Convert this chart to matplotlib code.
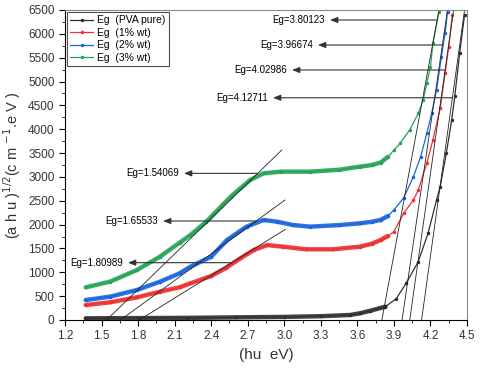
import numpy as np
import matplotlib.pyplot as plt
from matplotlib.ticker import MultipleLocator

plt.rcParams['font.family'] = ['Liberation Sans', 'DejaVu Sans']

# photon energy (eV) and (ahu)^1/2 values
e_pure = [1.37, 1.8, 2.2, 2.6, 3.0, 3.3, 3.54, 3.62, 3.70, 3.83, 3.92, 4.00,
          4.10, 4.18, 4.25, 4.28, 4.33, 4.375, 4.40, 4.44, 4.48]
y_pure = [35, 40, 45, 55, 65, 80, 105, 140, 190, 280, 450, 769,
          1223, 1817, 2516, 2796, 3494, 4200, 4700, 5600, 6400]

e_1 = [1.37, 1.57, 1.79, 1.98, 2.14, 2.23, 2.40, 2.52, 2.64, 2.75, 2.86, 2.99, 3.18,
       3.40, 3.62, 3.72, 3.79, 3.85, 3.90, 3.98, 4.06, 4.10, 4.17, 4.22, 4.28, 4.32, 4.35, 4.38]
y_1 = [314, 371, 475, 594, 685, 769, 922, 1090, 1293, 1468, 1572, 1537, 1482,
       1482, 1537, 1600, 1677, 1760, 1852, 2236, 2516, 2726, 3285, 3775, 4440, 5172, 5731, 6395]

e_2 = [1.37, 1.57, 1.79, 1.98, 2.14, 2.23, 2.40, 2.53, 2.69, 2.83, 2.94, 3.07,
       3.21, 3.45, 3.62, 3.72, 3.79, 3.85, 3.90, 3.98, 4.06, 4.12, 4.17, 4.21, 4.25, 4.29, 4.32, 4.34]
y_2 = [419, 489, 629, 804, 978, 1118, 1327, 1677, 1957, 2097, 2062, 1992,
       1957, 1990, 2027, 2060, 2097, 2180, 2306, 2560, 3005, 3424, 3914, 4333, 4823, 5521, 6010, 6464]

e_3 = [1.37, 1.57, 1.79, 1.98, 2.14, 2.23, 2.36, 2.56, 2.72, 2.83, 2.97, 3.21,
       3.45, 3.62, 3.72, 3.79, 3.85, 3.90, 3.95, 4.03, 4.10, 4.14, 4.17, 4.20, 4.22, 4.27]
y_3 = [685, 804, 1048, 1328, 1620, 1782, 2062, 2585, 2936, 3075, 3110, 3110,
       3150, 3215, 3250, 3300, 3420, 3560, 3705, 3985, 4333, 4613, 4963, 5311, 5800, 6464]

labels = ['Eg  (PVA pure)', 'Eg  (1% wt)', 'Eg  (2% wt)', 'Eg  (3% wt)']
colors = ['#303030', '#ee3030', '#1a66dd', '#28a35a']

# tangent lines: low-energy gaps (3%, 2%, 1%) and high-energy gaps (3%, 2%, 1%, pure)
eg_low = [1.54069, 1.65533, 1.80989]
low_end_e = [2.98, 3.006, 3.01]
low_end_y = [3565, 2516, 1902]
eg_high = [3.80123, 3.96674, 4.02986, 4.12711]
high_top_e = [4.27, 4.34, 4.39, 4.48]

# arrow levels for the labels
arrow_y_low = [3075, 2076, 1202]
arrow_y_high = [6290, 5766, 5242, 4660]
head_low = [2.177, 2.005, 1.717]
head_high = [3.376, 3.277, 3.064, 2.908]

fig = plt.figure(figsize=(4.8, 3.76), dpi=100)
ax = fig.add_axes([65 / 480, 56 / 376, 402 / 480, 310 / 376])

series = [(e_pure, y_pure), (e_1, y_1), (e_2, y_2), (e_3, y_3)]
for (e, y), c, lab in zip(series, colors, labels):
    e = np.array(e)
    y = np.array(y)
    dense = e <= 3.86
    ax.plot(e[dense], y[dense], color=c, lw=3.2, alpha=0.9, solid_capstyle='round')
    ax.plot(e, y, color=c, lw=0.9, marker='.', ms=3, label=lab)

tan_kw = dict(color='#222222', lw=0.6)
for eg, xe, ye in zip(eg_low, low_end_e, low_end_y):
    ax.plot([eg, xe], [0, ye], **tan_kw)
for eg, xt in zip(eg_high, high_top_e):
    ax.plot([eg, xt], [0, 6500], **tan_kw)

arrow_kw = dict(arrowstyle='-|>,head_length=0.45,head_width=0.18',
                color='#333333', lw=0.8, shrinkA=0, shrinkB=0)
for eg, ye, xe, y, hx in zip(eg_low, low_end_y, low_end_e, arrow_y_low, head_low):
    tail = eg + y * (xe - eg) / ye
    ax.annotate('', xy=(hx, y), xytext=(tail, y), arrowprops=arrow_kw)
    ax.text(hx - 0.04, y, 'Eg=%.5f' % eg, ha='right', va='center', fontsize=7)
for eg, xt, y, hx in zip(eg_high, high_top_e, arrow_y_high, head_high):
    tail = eg + y * (xt - eg) / 6500
    ax.annotate('', xy=(hx, y), xytext=(tail, y), arrowprops=arrow_kw)
    ax.text(hx - 0.04, y, 'Eg=%.5f' % eg, ha='right', va='center', fontsize=7)

ax.set_xlim(1.2, 4.5)
ax.set_ylim(0, 6500)
ax.set_xticks(np.arange(1.2, 4.51, 0.3))
ax.set_xticklabels(['%.1f' % v for v in np.arange(1.2, 4.51, 0.3)])
ax.set_yticks(np.arange(0, 6501, 500))
ax.xaxis.set_minor_locator(MultipleLocator(0.15))
ax.yaxis.set_minor_locator(MultipleLocator(250))
ax.tick_params(which='major', direction='out', length=4, width=0.8,
               labelsize=8.5, labelcolor='#333333')
ax.tick_params(which='minor', direction='out', length=2, width=0.6)
for s in ['top', 'right']:
    ax.spines[s].set_color('#888888')

ax.set_xlabel('(hu  eV)', fontsize=11, color='#333333')
ax.set_ylabel('(a h u )$^{1/2}$(c m $^{-1}$.e V )', fontsize=10.5, color='#333333')

leg = ax.legend(loc='upper left', fontsize=7.5, frameon=True, fancybox=False,
                borderaxespad=0.2, handlelength=2.2, labelspacing=0.25,
                borderpad=0.3, handletextpad=0.4)
leg.get_frame().set_edgecolor('#222222')
leg.get_frame().set_linewidth(0.8)

fig.savefig('out.png', dpi=100)
